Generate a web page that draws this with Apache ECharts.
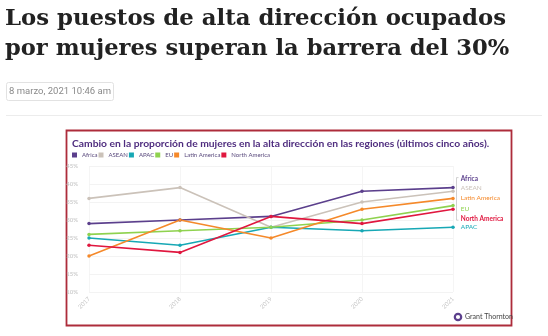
<!DOCTYPE html>
<html><head><meta charset="utf-8">
<script src="https://cdn.jsdelivr.net/npm/echarts@6/dist/echarts.min.js"></script>
<style>html,body{margin:0;padding:0;background:#fff}#c{width:548px;height:336px}</style>
</head><body><div id="c"></div>
<script>
var years = ['2017','2018','2019','2020','2021'];
var africa = [29, 30, 31, 38, 39];
var asean = [36, 39, 28, 35, 38];
var apac = [25, 23, 28, 27, 28];
var eu = [26, 27, 28, 30, 34];
var latam = [20, 30, 25, 33, 36];
var northAmerica = [23, 21, 31, 29, 33];
var seriesNames = ['Africa','ASEAN','APAC','EU','Latin America','North America'];
var yTicks = [10, 15, 20, 25, 30, 35, 40, 45];

var colors = ['#5b3f8c','#cbc2b9','#17a8b5','#8fd24f','#f5892a','#e0173f'];
var values = [africa, asean, apac, eu, latam, northAmerica];
// vertical nudges of the end labels: Africa, ASEAN, APAC, EU, Latin America, North America
var labelDy = [-9, -3.5, 0, 3, 0, 10];

var chart = echarts.init(document.getElementById('c'), null, {renderer:'canvas'});
var series = seriesNames.map(function(n, i){
  var data = values[i].map(function(v, j){
    if (j < values[i].length - 1) return v;
    return {value: v, label: {show: true, position: 'right', distance: 6,
      formatter: n, color: colors[i], fontSize: 6.5, fontFamily: 'Lato',
      fontWeight: (i===0||i===5) ? 'bold' : 'normal'}};
  });
  return {
    name: n, type: 'line', data: data,
    color: colors[i],
    symbol: 'circle', symbolSize: 3.5,
    lineStyle: {width: 1.6, color: colors[i]},
    itemStyle: {color: colors[i]},
    labelLayout: {dy: labelDy[i], hideOverlap: false},
    emphasis: {disabled: true}, animation: false, z: 3
  };
});

chart.setOption({
  animation: false,
  backgroundColor: '#fff',
  grid: {left: 89, right: 95, top: 166, bottom: 44, containLabel: false},
  legend: {
    left: 72, top: 152, padding: 0, itemWidth: 5, itemHeight: 5, itemGap: 1,
    icon: 'rect', data: seriesNames,
    textStyle: {fontSize: 6, color: '#5a4a7d', fontFamily: 'Lato'},
    selectedMode: false
  },
  xAxis: {
    type: 'category', data: years, boundaryGap: false,
    axisLine: {show: false}, axisTick: {show: false},
    axisLabel: {rotate: 45, fontSize: 6, color: '#c4c4c4', margin: 6, fontFamily: 'Lato'},
    splitLine: {show: true, lineStyle: {color: '#f3f3f3', width: 0.8}}
  },
  yAxis: {
    type: 'value', min: yTicks[0], max: yTicks[yTicks.length-1], interval: 5,
    axisLine: {show: false}, axisTick: {show: false},
    axisLabel: {formatter: '{value}%', fontSize: 6, color: '#c0c0c0', margin: 11, fontFamily: 'Lato'},
    splitLine: {lineStyle: {color: '#f0f0f0', width: 0.8}}
  },
  series: series,
  graphic: [
    {id: 't1', type: 'text', left: 5, top: 8, style: {text: 'Los puestos de alta dirección ocupados', font: 'bold 22.8px "DejaVu Serif"', fill: '#222'}},
    {id: 't2', type: 'text', left: 5, top: 38, style: {text: 'por mujeres superan la barrera del 30%', font: 'bold 22.6px "DejaVu Serif"', fill: '#222'}},
    {id: 'bd', type: 'rect', shape: {x: 6.5, y: 82.5, width: 107, height: 18, r: 2}, style: {fill: '#fff', stroke: '#e2e2e2', lineWidth: 1}},
    {id: 'dt', type: 'text', x: 60, y: 92, style: {text: '8 marzo, 2021 10:46 am', font: '9.5px Roboto', fill: '#8a8a8a', align: 'center', verticalAlign: 'middle'}},
    {id: 'dv', type: 'line', shape: {x1: 6, y1: 115.5, x2: 542, y2: 115.5}, style: {stroke: '#ececec', lineWidth: 1}},
    {id: 'fr', type: 'rect', shape: {x: 66.5, y: 130.5, width: 445, height: 195}, style: {fill: 'none', stroke: '#ad2c3b', lineWidth: 1.8}},
    {id: 'ct', type: 'text', x: 72, y: 144, style: {text: 'Cambio en la proporción de mujeres en la alta dirección en las regiones (últimos cinco años).', font: 'bold 10.3px Lato', fill: '#4f2d7f', verticalAlign: 'middle'}},
    {id: 'lc', type: 'circle', shape: {cx: 458, cy: 317, r: 3.2}, style: {fill: 'none', stroke: '#5b3f8c', lineWidth: 2.2}},
    {id: 'lt', type: 'text', x: 465, y: 317, style: {text: 'Grant Thornton', font: '7px Lato', fill: '#444', verticalAlign: 'middle'}}
  ]
});

// bracket next to end labels (decoration), placed via the chart's own scales
var last = years.length - 1;
var pA = chart.convertToPixel({gridIndex: 0}, [years[last], africa[last]]);
var pN = chart.convertToPixel({gridIndex: 0}, [years[last], northAmerica[last]]);
var bx = pA[0] + 3.5;
var yTop = pA[1] + labelDy[0] - 1, yBot = pN[1] + labelDy[5] + 1;
chart.setOption({graphic: [
  {id: 'br', type: 'polyline', shape: {points: [[bx+2, yTop], [bx, yTop], [bx, yBot], [bx+2, yBot]]}, style: {fill: 'none', stroke: '#bdbdbd', lineWidth: 0.7}}
]});
</script></body></html>
